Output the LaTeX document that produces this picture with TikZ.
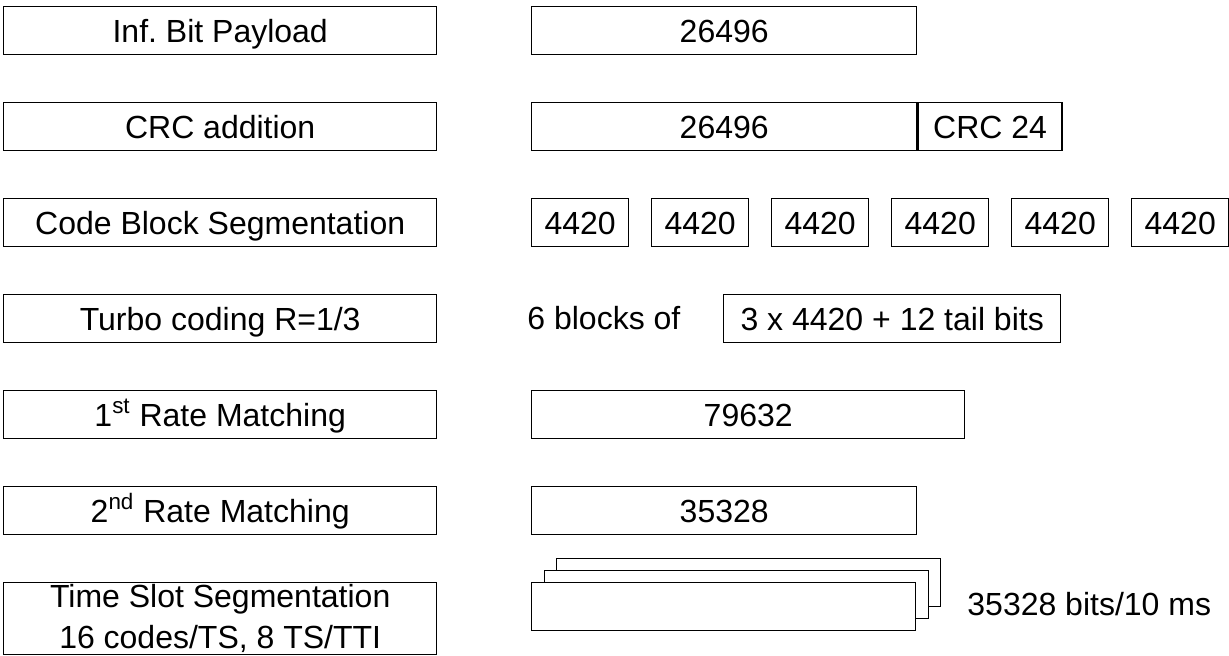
\documentclass[tikz,border=0pt]{standalone}
\usepackage{fontspec}
\setmainfont{Liberation Sans}
\usetikzlibrary{positioning}

\begin{document}
\begin{tikzpicture}[x=0.5pt,y=-0.5pt,
  every node/.style={font=\fontsize{16}{20.5}\selectfont},
  oneline/.style={text height=11.4pt,text depth=0pt},
  stage/.style={draw,line width=.7pt,inner sep=0pt,anchor=north west,minimum width=216.5pt,minimum height=24pt},
  field/.style={draw,line width=.7pt,inner sep=0pt,anchor=north west,minimum height=24pt,oneline}]
 \useasboundingbox (0,0) rectangle (1229,655);
 % processing steps
 \node[stage,oneline] (payload) at (3,6) {Inf.\ Bit Payload};
 \node[stage,oneline] (crcadd) at (3,102) {CRC addition};
 \node[stage,oneline] (cbseg) at (3,198) {Code Block Segmentation};
 \node[stage,oneline] (turbo) at (3,294) {Turbo coding R=1/3};
 \node[stage,oneline] (rmone) at (3,390) {1\textsuperscript{st} Rate Matching};
 \node[stage,oneline] (rmtwo) at (3,486) {2\textsuperscript{nd} Rate Matching};
 \node[stage,minimum height=36pt,align=center] (tsseg) at (3,582) {Time Slot Segmentation\\16 codes/TS, 8 TS/TTI};
 % bit fields
 \node[field,minimum width=192.5pt] (infbits) at (531,6) {26496};
 \node[field,minimum width=192.5pt] (crcbits) at (531,102) {26496};
 \node[field,minimum width=72pt,right=0pt of crcbits] (crctail) {CRC 24};
    \foreach \i in {0,...,5}
    \node[field,minimum width=48.5pt] (cb\i) at (531+120*\i,198) {4420};
 \node[anchor=west,inner sep=0pt,oneline] (nblocks) at (527,318) {6 blocks of};
 \node[field,minimum width=168.5pt] (coded) at (723,294) {3 x 4420 + 12 tail bits};
 \node[field,minimum width=216.5pt] (rmonebits) at (531,390) {79632};
 \node[field,minimum width=192.5pt] (rmtwobits) at (531,486) {35328};
    \foreach \k in {2,1,0}
    \node[field,fill=white,minimum width=192pt] (ts\k) at (531+12.5*\k,582-12*\k) {};
 \node[anchor=west,inner sep=0pt,oneline] (tsrate) at (967,604) {35328 bits/10 ms};
\end{tikzpicture}
\end{document}
